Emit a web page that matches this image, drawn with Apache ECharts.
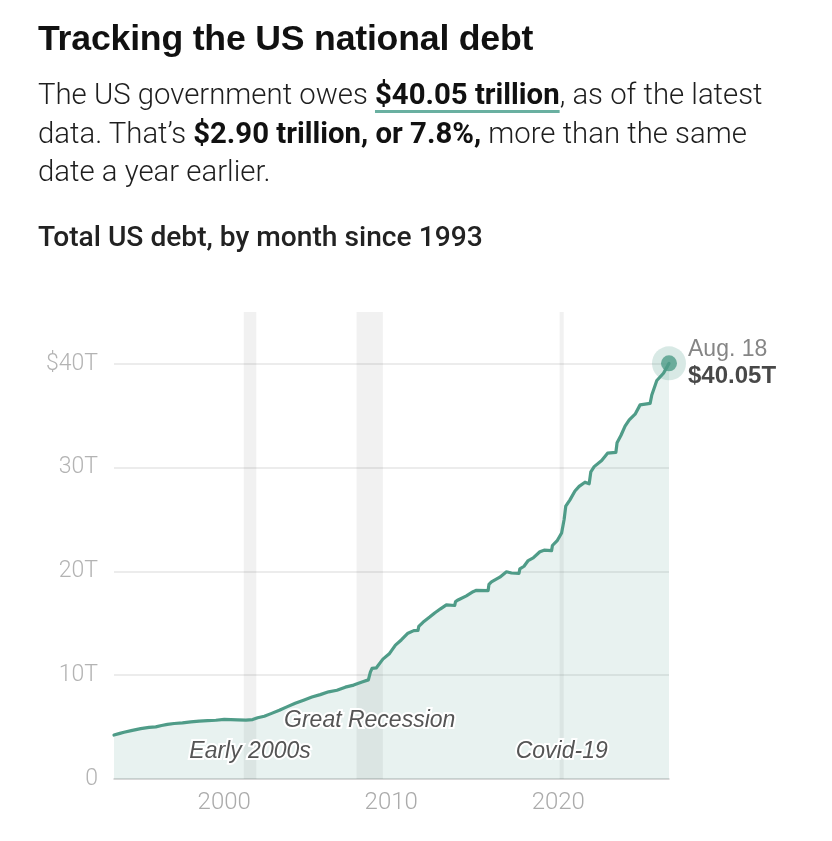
<!DOCTYPE html>
<html>
<head>
<meta charset="utf-8">
<script src="https://cdn.jsdelivr.net/npm/echarts@6/dist/echarts.min.js"></script>
<style>
  html, body { margin: 0; padding: 0; background: #fff; }
  #wrap { position: relative; width: 832px; height: 841px; overflow: hidden; }
  #chart { position: absolute; left: 0; top: 0; width: 832px; height: 841px; }
  #head { position: absolute; left: 38px; top: 0; color: #1a1a1a; z-index: 2; }
  #head > div { position: absolute; left: 0; top: 0; white-space: nowrap; line-height: 1.2; }
  #title { font-family: "Liberation Sans", Arial, sans-serif; font-size: 33px; font-weight: 700; color: #111; letter-spacing: -0.2px; }
  .sub { font-family: Roboto, "Noto Sans", sans-serif; font-size: 26px; font-weight: 300; color: #1e1e1e; }
  .sub b { font-weight: 700; color: #111; }
  .sub .u { text-decoration: underline; text-decoration-color: #6ab0a1; text-decoration-thickness: 3px; text-underline-offset: 6px; text-decoration-skip-ink: none; }
  #label { font-family: Roboto, "Noto Sans", sans-serif; font-size: 24px; font-weight: 500; color: #222; }
  .bl { display: inline-block; width: 0; height: 0; vertical-align: baseline; }
</style>
</head>
<body>
<div id="wrap">
  <div id="chart"></div>
  <div id="head">
    <div id="title">Tracking the US national debt</div>
    <div id="s1" class="sub">The US government owes <b class="u">$40.05 trillion</b>, as of the latest</div>
    <div id="s2" class="sub">data. That’s <b>$2.90 trillion, or 7.8%,</b> more than the same</div>
    <div id="s3" class="sub">date a year earlier.</div>
    <div id="label">Total US debt, by month since 1993</div>
  </div>
</div>
<script>
// ---- data (decimal year, trillions of dollars) ----
const months = [
  1993.40, 1993.75, 1994.00, 1994.50, 1995.00, 1995.50, 1995.90, 1996.25, 1996.60, 1997.00,
  1997.50, 1998.00, 1998.50, 1999.00, 1999.50, 2000.00, 2000.40, 2000.80, 2001.30, 2001.70,
  2002.00, 2002.40, 2002.80, 2003.30, 2003.75, 2004.25, 2004.75, 2005.25, 2005.75, 2006.25,
  2006.75, 2007.25, 2007.75, 2008.25, 2008.63, 2008.75, 2008.85, 2009.10, 2009.50, 2009.90,
  2010.25, 2010.60, 2011.00, 2011.35, 2011.60, 2011.65, 2011.90, 2012.30, 2012.60, 2012.95,
  2013.30, 2013.80, 2013.85, 2014.00, 2014.50, 2014.90, 2015.10, 2015.80, 2015.85, 2016.00,
  2016.50, 2016.90, 2017.20, 2017.65, 2017.70, 2017.95, 2018.20, 2018.50, 2018.90, 2019.15,
  2019.60, 2019.65, 2019.95, 2020.20, 2020.35, 2020.45, 2020.70, 2021.00, 2021.25, 2021.60,
  2021.85, 2021.95, 2022.15, 2022.60, 2022.95, 2023.45, 2023.52, 2023.75, 2024.00, 2024.25,
  2024.60, 2024.90, 2025.50, 2025.60, 2025.90, 2026.30, 2026.63
];
const debtT = [
  4.24, 4.40, 4.50, 4.69, 4.85, 4.97, 5.02, 5.15, 5.26, 5.35,
  5.40, 5.50, 5.58, 5.63, 5.66, 5.75, 5.72, 5.70, 5.68, 5.73,
  5.90, 6.05, 6.30, 6.62, 6.95, 7.30, 7.60, 7.90, 8.13, 8.40,
  8.55, 8.85, 9.05, 9.35, 9.55, 10.30, 10.66, 10.70, 11.55, 12.10,
  12.90, 13.40, 14.05, 14.30, 14.32, 14.70, 15.10, 15.60, 16.00, 16.40,
  16.78, 16.72, 17.10, 17.25, 17.65, 18.05, 18.18, 18.16, 18.75, 19.00,
  19.45, 19.97, 19.85, 19.82, 20.25, 20.50, 21.05, 21.30, 21.90, 22.05,
  22.00, 22.50, 23.00, 23.70, 25.00, 26.30, 26.90, 27.75, 28.20, 28.60,
  28.45, 29.60, 30.10, 30.70, 31.40, 31.48, 32.40, 33.10, 34.00, 34.60,
  35.15, 36.05, 36.20, 37.00, 38.40, 39.10, 40.05
];
const recessionNames = ['Early 2000s', 'Great Recession', 'Covid-19'];
const recessionStart = [2001.17, 2007.92, 2020.08];
const recessionEnd   = [2001.92, 2009.50, 2020.33];
const xTickValues = [2000, 2010, 2020];
const yTickValues = [0, 10, 20, 30, 40];
const yTickLabels = ['0', '10T', '20T', '30T', '$40T'];
const latestLabel = 'Aug. 18';

// ---- header layout: scale font so line widths match, then place on baselines ----
function fitSize(el, target) {
  const fs = parseFloat(getComputedStyle(el).fontSize);
  const w = el.getBoundingClientRect().width;
  const nfs = fs * target / w;
  el.style.fontSize = nfs + 'px';
  return nfs;
}
function placeBaseline(el, baseline) {
  const s = document.createElement('span');
  s.className = 'bl';
  el.appendChild(s);
  const headTop = document.getElementById('head').getBoundingClientRect().top;
  const b = s.getBoundingClientRect().bottom - headTop;
  const cur = parseFloat(el.style.top || '0');
  el.style.top = (cur + baseline - b) + 'px';
}
const tEl = document.getElementById('title');
fitSize(tEl, 495);
const s1 = document.getElementById('s1'), s2 = document.getElementById('s2'), s3 = document.getElementById('s3');
const subFs = fitSize(s1, 725);
s2.style.fontSize = subFs + 'px';
s3.style.fontSize = subFs + 'px';
const lEl = document.getElementById('label');
fitSize(lEl, 445);
placeBaseline(tEl, 50);
placeBaseline(s1, 104);
placeBaseline(s2, 142.5);
placeBaseline(s3, 181);
placeBaseline(lEl, 246);

const series = months.map((m, i) => [m, debtT[i]]);
const last = series[series.length - 1];

const TEAL = '#4f9c88';
const labelDist = [15, 46, 15];
const AX_FONT = 'Roboto, sans-serif';
const ANN_FONT = '"Liberation Sans", Arial, sans-serif';

const chart = echarts.init(document.getElementById('chart'), null, { renderer: 'canvas' });
chart.setOption({
  animation: false,
  backgroundColor: '#fff',
  grid: { left: 114, right: 163, top: 312, bottom: 62, containLabel: false },
  xAxis: {
    type: 'value',
    min: months[0],
    max: months[months.length - 1],
    axisLine: { show: true, onZero: true, lineStyle: { color: '#cccccc', width: 1.5 } },
    axisTick: { show: false },
    splitLine: { show: false },
    axisLabel: {
      customValues: xTickValues,
      formatter: v => String(Math.round(v)),
      color: '#ababab',
      fontFamily: AX_FONT,
      fontWeight: 300,
      fontSize: 24,
      margin: 12
    }
  },
  yAxis: {
    type: 'value',
    min: 0,
    max: 45,
    interval: 10,
    axisLine: { show: false },
    axisTick: { show: false },
    splitLine: { show: true, showMinLine: false, showMaxLine: false, lineStyle: { color: '#e6e6e6', width: 1.5 } },
    axisLabel: {
      showMaxLabel: false,
      formatter: v => { const i = yTickValues.indexOf(v); return i >= 0 ? yTickLabels[i] : ''; },
      color: '#b3b3b3',
      fontFamily: AX_FONT,
      fontWeight: 300,
      fontSize: 23,
      margin: 16
    }
  },
  series: [
    {
      name: 'recessions',
      type: 'line',
      data: [],
      z: 1,
      silent: true,
      markArea: {
        silent: true,
        itemStyle: { color: 'rgba(0,0,0,0.055)' },
        data: recessionNames.map((n, i) => [{ xAxis: recessionStart[i] }, { xAxis: recessionEnd[i] }])
      }
    },
    {
      name: 'Total US debt',
      type: 'line',
      data: series,
      z: 3,
      showSymbol: false,
      symbol: 'none',
      smooth: false,
      lineStyle: { color: TEAL, width: 3.2, join: 'round', cap: 'round' },
      areaStyle: { color: 'rgba(82,158,140,0.19)', origin: 'start' },
      markPoint: {
        silent: true,
        symbol: 'circle',
        symbolSize: 1,
        itemStyle: { color: 'rgba(0,0,0,0)' },
        data: recessionNames.map((n, i) => ({
          name: n,
          coord: [(recessionStart[i] + recessionEnd[i]) / 2, 0],
          label: {
            show: true,
            position: 'top',
            distance: labelDist[i],
            formatter: n,
            fontFamily: ANN_FONT,
            fontStyle: 'italic',
            fontSize: 23,
            color: '#555',
            textBorderColor: '#fff',
            textBorderWidth: 4
          }
        }))
      }
    },
    {
      name: 'halo',
      type: 'scatter',
      data: [last],
      z: 4,
      clip: false,
      silent: true,
      symbolSize: 34,
      itemStyle: { color: 'rgba(82,158,140,0.28)' }
    },
    {
      name: 'latest',
      type: 'scatter',
      data: [last],
      z: 5,
      clip: false,
      silent: true,
      symbolSize: 16,
      itemStyle: { color: TEAL },
      label: {
        show: true,
        position: 'right',
        distance: 11,
        formatter: () => '{a|' + latestLabel + '}\n{b|$' + last[1].toFixed(2) + 'T}',
        rich: {
          a: { fontFamily: ANN_FONT, fontSize: 23, color: '#666', lineHeight: 27 },
          b: { fontFamily: ANN_FONT, fontSize: 24, fontWeight: 700, color: '#1a1a1a', lineHeight: 27 }
        }
      }
    }
  ]
});
</script>
</body>
</html>
